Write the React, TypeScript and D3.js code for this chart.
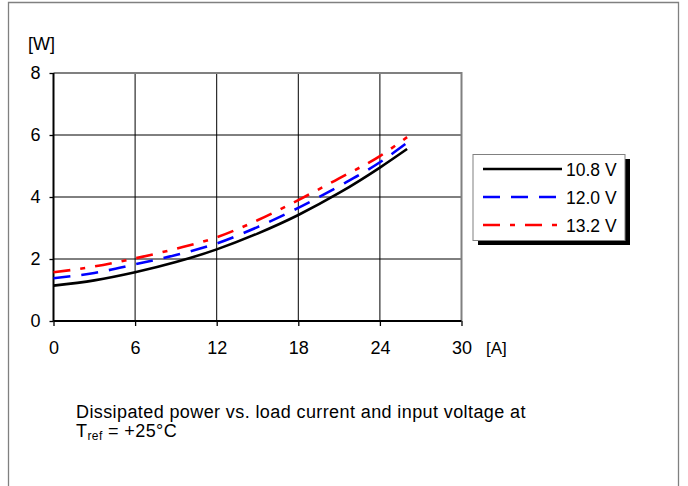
import { useEffect, useRef } from "react";
import * as d3 from "d3";

const currents = [0, 3, 6, 9, 12, 15, 18, 21, 24, 26];
const power108 = [1.14, 1.31, 1.57, 1.9, 2.31, 2.82, 3.42, 4.13, 4.95, 5.55];
const power120 = [1.38, 1.55, 1.83, 2.13, 2.5, 3.03, 3.65, 4.35, 5.12, 5.75];
const power132 = [1.57, 1.76, 2.02, 2.33, 2.7, 3.25, 3.9, 4.6, 5.32, 5.93];
const seriesLabels = ["10.8 V", "12.0 V", "13.2 V"];
const xTicks = [0, 6, 12, 18, 24, 30];
const yTicks = [0, 2, 4, 6, 8];

const FONT = "'Liberation Sans', Arial, Helvetica, sans-serif";

export default function App() {
  const svgRef = useRef<SVGSVGElement>(null);

  useEffect(() => {
    if (!svgRef.current) return;
    const svg = d3.select(svgRef.current);
    svg.selectAll("*").remove();

    const W = 688;
    const H = 486;
    svg.attr("width", W).attr("height", H).attr("viewBox", `0 0 ${W} ${H}`);

    // outer frame (open at bottom)
    svg
      .append("path")
      .attr("d", `M8.5,${H} V2.5 H678.5 V${H}`)
      .attr("fill", "none")
      .attr("stroke", "#808080")
      .attr("stroke-width", 1.3);

    const x = d3.scaleLinear().domain([0, 30]).range([53.5, 461.5]);
    const y = d3.scaleLinear().domain([0, 8]).range([321, 73]);

    const g = svg.append("g");

    // gridlines
    g.selectAll("line.vgrid")
      .data(xTicks.slice(1, -1))
      .join("line")
      .attr("x1", (d) => x(d))
      .attr("x2", (d) => x(d))
      .attr("y1", y(0))
      .attr("y2", y(8))
      .attr("stroke", "#000")
      .attr("stroke-width", 1);
    g.selectAll("line.hgrid")
      .data(yTicks.slice(1, -1))
      .join("line")
      .attr("x1", x(0))
      .attr("x2", x(30))
      .attr("y1", (d) => y(d))
      .attr("y2", (d) => y(d))
      .attr("stroke", "#000")
      .attr("stroke-width", 1);

    // top and right border (grey)
    g.append("path")
      .attr("d", `M${x(0)},${y(8)} H${x(30)} V${y(0)}`)
      .attr("fill", "none")
      .attr("stroke", "#808080")
      .attr("stroke-width", 2);

    // axes
    const xAxis = d3
      .axisBottom(x)
      .tickValues(xTicks)
      .tickSize(5)
      .tickPadding(15)
      .tickFormat(d3.format("d"));
    const yAxis = d3
      .axisLeft(y)
      .tickValues(yTicks)
      .tickSize(4)
      .tickPadding(9)
      .tickFormat(d3.format("d"));

    const gx = g.append("g").attr("transform", `translate(0,${y(0)})`).call(xAxis);
    const gy = g.append("g").attr("transform", `translate(${x(0)},0)`).call(yAxis);
    [gx, gy].forEach((ax) => {
      ax.select(".domain").attr("stroke", "#000").attr("stroke-width", 2);
      ax.selectAll(".tick line").attr("stroke", "#000").attr("stroke-width", 1.3);
      ax.selectAll(".tick text")
        .attr("font-family", FONT)
        .attr("font-size", 18)
        .attr("fill", "#000");
    });
    gy.select(".domain").attr("d", `M0,${y(0)}V${y(8)}`);
    gx.select(".domain").attr("d", `M${x(0)},0H${x(30)}`);

    // unit labels
    svg
      .append("text")
      .attr("x", 28)
      .attr("y", 50)
      .attr("font-family", FONT)
      .attr("font-size", 18)
      .text("[W]");
    svg
      .append("text")
      .attr("x", 486)
      .attr("y", 354)
      .attr("font-family", FONT)
      .attr("font-size", 17)
      .text("[A]");

    const series = [
      { label: seriesLabels[0], values: power108, color: "#000", dash: null },
      { label: seriesLabels[1], values: power120, color: "#0000ff", dash: "17,11" },
      { label: seriesLabels[2], values: power132, color: "#ff0000", dash: "17,10,5,10" },
    ];

    const line = d3
      .line<number>()
      .x((_d, i) => x(currents[i]))
      .y((d) => y(d))
      .curve(d3.curveMonotoneX);

    series.forEach((s) => {
      g.append("path")
        .attr("d", line(s.values) ?? "")
        .attr("fill", "none")
        .attr("stroke", s.color)
        .attr("stroke-width", 2.6)
        .attr("stroke-dasharray", s.dash);
    });

    // legend
    const lg = svg.append("g");
    lg.append("rect")
      .attr("x", 478)
      .attr("y", 159)
      .attr("width", 152)
      .attr("height", 86)
      .attr("fill", "#000");
    lg.append("rect")
      .attr("x", 473)
      .attr("y", 154.5)
      .attr("width", 152)
      .attr("height", 86)
      .attr("fill", "#fff")
      .attr("stroke", "#808080")
      .attr("stroke-width", 1);
    series.forEach((s, i) => {
      const ly = 169 + i * 28;
      lg.append("line")
        .attr("x1", 483)
        .attr("x2", 562)
        .attr("y1", ly)
        .attr("y2", ly)
        .attr("stroke", s.color)
        .attr("stroke-width", 2.6)
        .attr("stroke-dasharray", s.dash);
      lg.append("text")
        .attr("x", 566)
        .attr("y", ly + 6.5)
        .attr("font-family", FONT)
        .attr("font-size", 17.5)
        .text(s.label);
    });

    // caption
    svg
      .append("text")
      .attr("x", 76)
      .attr("y", 417.5)
      .attr("font-family", FONT)
      .attr("font-size", 18)
      .attr("letter-spacing", 0.4)
      .text("Dissipated power vs. load current and input voltage at");
    const cap2 = svg
      .append("text")
      .attr("x", 76)
      .attr("y", 437)
      .attr("font-family", FONT)
      .attr("font-size", 18)
      .attr("letter-spacing", 0.4);
    cap2.append("tspan").text("T");
    cap2.append("tspan").attr("font-size", 12).attr("dy", 2.5).text("ref");
    cap2.append("tspan").attr("dy", -2.5).text(" = +25°C");
  }, []);

  return (
    <div style={{ position: "absolute", left: 0, top: 0 }}>
      <svg ref={svgRef} style={{ display: "block" }} />
    </div>
  );
}
